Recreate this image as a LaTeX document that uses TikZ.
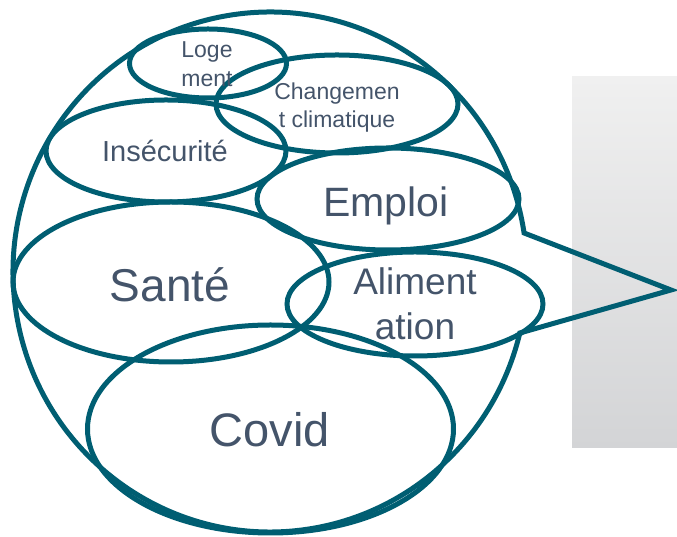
\documentclass[tikz,border=0pt]{standalone}
\usepackage{fontspec}
\setmainfont{Liberation Sans}
\usetikzlibrary{shapes.geometric}
\definecolor{lineteal}{HTML}{005E72}
\definecolor{labelgray}{HTML}{44546A}
\definecolor{paneltop}{HTML}{F0F0F0}
\definecolor{panelbottom}{HTML}{D3D4D6}

\begin{document}
\begin{tikzpicture}[x=1pt,y=1pt,
  outline/.style={draw=lineteal, line width=5pt},
  zone/.style={outline, ellipse, inner sep=0pt, outer sep=0pt},
  lbl/.style={text=labelgray, inner sep=0pt, align=center, anchor=base}]
\useasboundingbox (0,0) rectangle (677,537);

% shaded side panel
\shade[top color=paneltop, bottom color=panelbottom] (572,89) rectangle (677,460);

% speech bubble with its tail
\coordinate (tip) at (671,247);
\draw[outline] (tip) -- ([shift={(270,265)}]8.63:257 and 260)
  arc[start angle=8.63, end angle=346.43, x radius=257, y radius=260] -- cycle;

% overlapping themes
\node[zone, minimum width=157, minimum height=69]  (loge)   at (208,473.5) {};
\node[zone, minimum width=242, minimum height=98]  (climat) at (337,433) {};
\node[zone, minimum width=240, minimum height=102] (insec)  at (166,386) {};
\node[zone, minimum width=262, minimum height=102] (emploi) at (388,338) {};
\node[zone, minimum width=316, minimum height=160] (sante)  at (171,255) {};
\node[zone, minimum width=256, minimum height=104] (alim)   at (415,233) {};
\node[zone, minimum width=366, minimum height=208] (covid)  at (270.5,108) {};

% labels (base anchor sits on the last line)
\node[lbl, font=\fontsize{23}{29}\selectfont] (tloge) at (207,450) {Loge\\ment};
\node[lbl, font=\fontsize{23}{28}\selectfont] (tclimat) at (337,409) {Changemen\\t climatique};
\node[lbl, font=\fontsize{29}{34}\selectfont] (tinsec) at (165,375) {Insécurité};
\node[lbl, font=\fontsize{41}{48}\selectfont] (templ) at (386,320) {Emploi};
\node[lbl, font=\fontsize{46}{54}\selectfont] (tsante) at (170,235) {Santé};
\node[lbl, font=\fontsize{37}{45}\selectfont] (talim) at (415,197) {Aliment\\ation};
\node[lbl, font=\fontsize{47}{55}\selectfont] (tcovid) at (270,90) {Covid};
\end{tikzpicture}
\end{document}
